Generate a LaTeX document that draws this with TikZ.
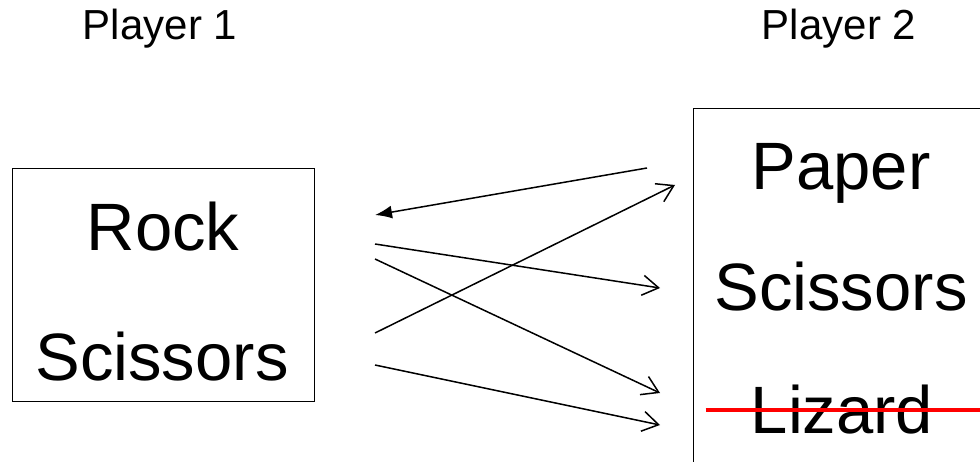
\documentclass[tikz,border=0pt]{standalone}
\usepackage{fontspec}
\setmainfont{Liberation Sans}
\usetikzlibrary{arrows.meta}

\begin{document}
\begin{tikzpicture}[x=1pt,y=-1pt,
  box/.style={draw=black,line width=1.2pt,inner sep=0pt,anchor=north west},
  move/.style={font=\fontsize{67}{80}\selectfont,anchor=base,inner sep=0pt},
  player/.style={font=\fontsize{42}{48}\selectfont,anchor=base,inner sep=0pt},
  link/.style={line width=1.5pt,-{Straight Barb[length=16pt,width=20pt,line width=1.5pt]}},
  back/.style={line width=1.5pt,-{Latex[length=17pt,width=13pt]}},
  strike/.style={red,line width=4.5pt}]
  \useasboundingbox (0,0) rectangle (980,462);

  % player headings
  \node[player] (p1) at (160,40) {Player 1};
  \node[player] (p2) at (839,40) {Player 2};

  % strategy boxes
  \node[box,minimum width=302pt,minimum height=233pt] (b1) at (12,168) {};
  \node[box,minimum width=320pt,minimum height=380pt] (b2) at (693,108) {};

  % strategies of player 1
  \node[move] (rock) at (163,251) {Rock};
  \node[move] (sc1) at (162,381) {Scissors};

  % strategies of player 2
  \node[move] (paper) at (841,190) {Paper};
  \node[move] (sc2) at (841,311) {Scissors};
  \node[move] (liz) at (842,433) {Lizard};
  \draw[strike] ([xshift=-45pt,yshift=23pt]liz.base west) -- ([xshift=80pt,yshift=23pt]liz.base east);

  % arrow end points
  \coordinate (r0) at (647,168);
  \coordinate (r1) at (375,215);
  \coordinate (s0) at (375,244);
  \coordinate (s1) at (660,288);
  \coordinate (t0) at (375,259);
  \coordinate (t1) at (660,393);
  \coordinate (u0) at (375,333);
  \coordinate (u1) at (675,185);
  \coordinate (v0) at (375,365);
  \coordinate (v1) at (660,425);

  \draw[back] (r0) -- (r1);
  \draw[link] (s0) -- (s1);
  \draw[link] (t0) -- (t1);
  \draw[link] (u0) -- (u1);
  \draw[link] (v0) -- (v1);
\end{tikzpicture}
\end{document}
